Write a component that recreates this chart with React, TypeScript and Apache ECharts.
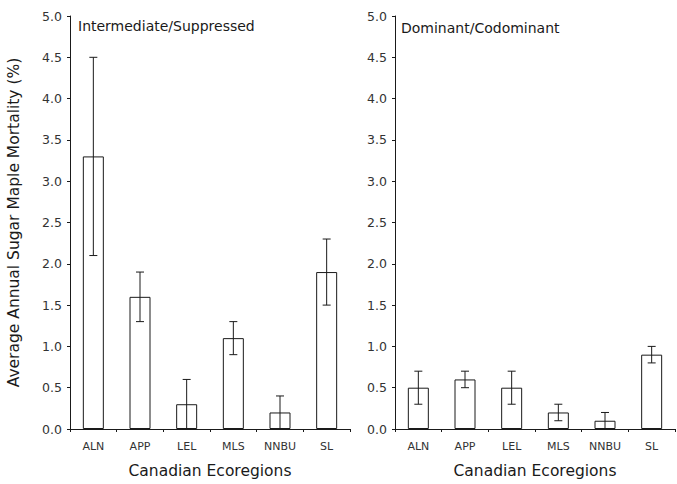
import React, { useEffect, useRef } from "react";
import * as echarts from "echarts";

// Canadian ecoregions shown on both panels
const regions = ["ALN", "APP", "LEL", "MLS", "NNBU", "SL"];

// Intermediate/Suppressed crown class: mean and error range (%)
const interMean = [3.3, 1.6, 0.3, 1.1, 0.2, 1.9];
const interLow = [2.1, 1.3, 0.0, 0.9, 0.0, 1.5];
const interHigh = [4.5, 1.9, 0.6, 1.3, 0.4, 2.3];

// Dominant/Codominant crown class: mean and error range (%)
const domMean = [0.5, 0.6, 0.5, 0.2, 0.1, 0.9];
const domLow = [0.3, 0.5, 0.3, 0.1, 0.0, 0.8];
const domHigh = [0.7, 0.7, 0.7, 0.3, 0.2, 1.0];

const FONT = "DejaVu Sans, Verdana, sans-serif";
const INK = "#1a1a1a";

function errorBarSeries(idx: number, low: number[], high: number[]) {
  return {
    type: "custom",
    xAxisIndex: idx,
    yAxisIndex: idx,
    z: 5,
    data: regions.map((r, i) => [i, low[i], high[i]]),
    renderItem: (params: any, api: any) => {
      const x = api.value(0);
      const lo = api.coord([x, api.value(1)]);
      const hi = api.coord([x, api.value(2)]);
      const cap = 4;
      const style = { stroke: INK, lineWidth: 1 };
      return {
        type: "group",
        children: [
          { type: "line", shape: { x1: lo[0], y1: lo[1], x2: hi[0], y2: hi[1] }, style },
          { type: "line", shape: { x1: hi[0] - cap, y1: hi[1], x2: hi[0] + cap, y2: hi[1] }, style },
          { type: "line", shape: { x1: lo[0] - cap, y1: lo[1], x2: lo[0] + cap, y2: lo[1] }, style },
        ],
      };
    },
  };
}

function barSeries(idx: number, values: number[]) {
  return {
    type: "bar",
    xAxisIndex: idx,
    yAxisIndex: idx,
    barWidth: 21,
    data: values,
    itemStyle: { color: "#ffffff", borderColor: INK, borderWidth: 1 },
    z: 3,
  };
}

function xAxisFor(idx: number) {
  return {
    type: "category",
    gridIndex: idx,
    data: regions,
    boundaryGap: true,
    axisLine: { lineStyle: { color: INK, width: 1 } },
    axisTick: { show: true, length: 3, lineStyle: { color: INK } },
    axisLabel: { color: "#333", fontFamily: FONT, fontSize: 11, margin: 12 },
    name: "Canadian Ecoregions",
    nameLocation: "middle",
    nameGap: 34,
    nameTextStyle: { color: INK, fontFamily: FONT, fontSize: 15.5 },
  };
}

function yAxisFor(idx: number, withName: boolean) {
  return {
    type: "value",
    gridIndex: idx,
    min: 0,
    max: 5,
    interval: 0.5,
    axisLine: { show: true, lineStyle: { color: INK, width: 1 } },
    axisTick: { show: true, length: 3, lineStyle: { color: INK } },
    splitLine: { show: false },
    axisLabel: {
      color: "#333",
      fontFamily: FONT,
      fontSize: 12.5,
      margin: 8,
      formatter: (v: number) => v.toFixed(1),
    },
    name: withName ? "Average Annual Sugar Maple Mortality (%)" : "",
    nameLocation: "middle",
    nameGap: 48,
    nameTextStyle: { color: INK, fontFamily: FONT, fontSize: 15.5 },
  };
}

export default function App() {
  const ref = useRef<HTMLDivElement>(null);

  useEffect(() => {
    if (!ref.current) return;
    const chart = echarts.init(ref.current, null, { renderer: "svg" });
    chart.setOption({
      animation: false,
      backgroundColor: "#ffffff",
      grid: [
        { left: 70, right: 327, top: 16, bottom: 54 },
        { left: 395, right: 2, top: 16, bottom: 54 },
      ],
      xAxis: [xAxisFor(0), xAxisFor(1)],
      yAxis: [yAxisFor(0, true), yAxisFor(1, false)],
      graphic: [
        {
          type: "text",
          left: 78,
          top: 19,
          style: { text: "Intermediate/Suppressed", fill: INK, font: `14px ${FONT}` },
        },
        {
          type: "text",
          left: 401,
          top: 21,
          style: { text: "Dominant/Codominant", fill: INK, font: `14px ${FONT}` },
        },
      ],
      series: [
        barSeries(0, interMean),
        errorBarSeries(0, interLow, interHigh),
        barSeries(1, domMean),
        errorBarSeries(1, domLow, domHigh),
      ],
    });
    return () => chart.dispose();
  }, []);

  return (
    <div
      ref={ref}
      style={{ position: "fixed", left: 0, top: 0, width: 677, height: 484 }}
    />
  );
}
